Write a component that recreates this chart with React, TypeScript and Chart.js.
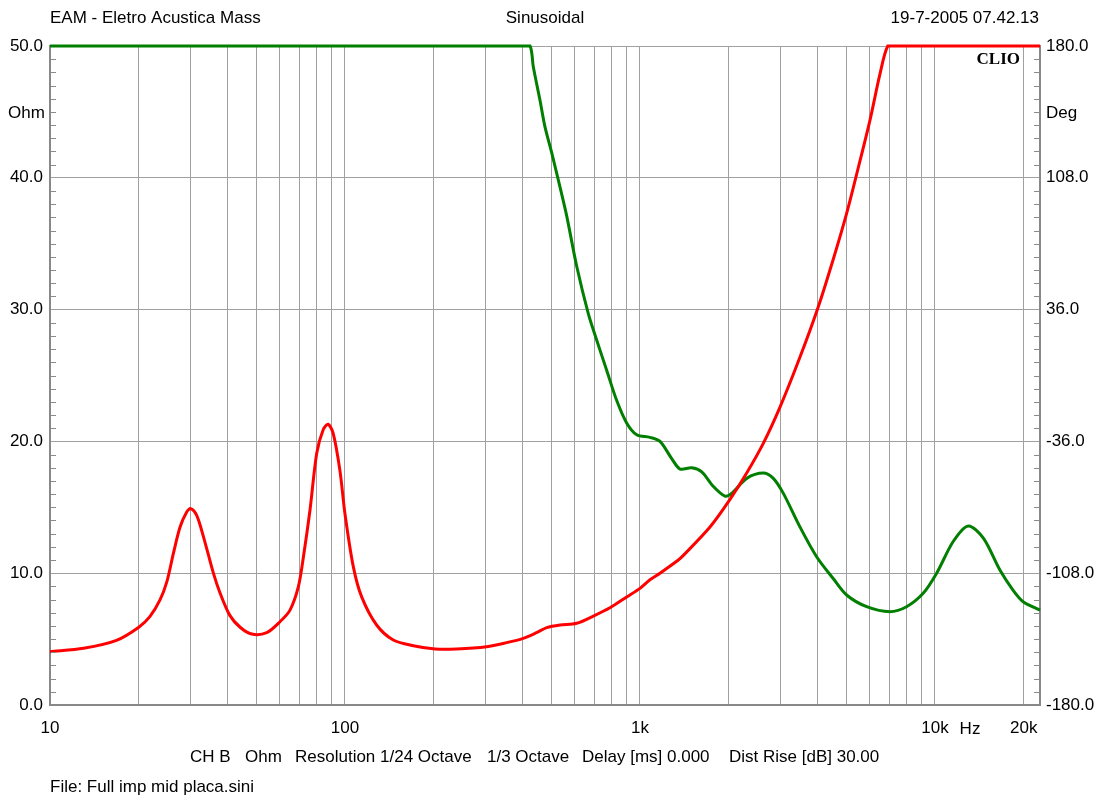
import React, { useEffect, useRef } from "react";
import { Chart, registerables } from "chart.js";

Chart.register(...registerables);

// Impedance magnitude (left axis, Ohm)
const impFreqHz = [
  10, 13, 16.8, 20, 21.8, 23.6, 24.9, 26.2, 27.6, 29.1, 30, 31.4, 33.1, 35.8, 37.7, 40.7, 44.1, 48.3,
  54.3, 60.2, 65.1, 69.5, 72.3, 76.1, 80.2, 84.4, 87.7, 91.2, 96.1, 100, 106.7, 113.9, 128, 145.8,
  170.6, 202, 239, 302, 353, 402, 446, 483, 536, 610, 695, 791, 901, 1000, 1081, 1169, 1349, 1403,
  1727, 2019, 2300, 2618, 2983, 3487, 4020, 4518, 5018, 5500, 6025, 6513, 6918, 7300, 8500, 12000,
  22700,
];
const impOhm = [
  4.04, 4.3, 4.9, 5.9, 6.7, 7.97, 9.36, 11.5, 13.5, 14.67, 14.9, 14.4, 12.8, 10.0, 8.5, 6.8, 5.9, 5.38,
  5.49, 6.32, 7.2, 8.98, 11.25, 14.8, 19.1, 20.9, 21.3, 20.6, 17.8, 14.5, 10.5, 8.2, 6.07, 4.93,
  4.5, 4.25, 4.25, 4.42, 4.73, 5.06, 5.49, 5.87, 6.07, 6.2, 6.75, 7.38, 8.2, 8.85, 9.5, 10.0, 11.0, 11.35,
  13.5, 15.6, 17.6, 19.85, 22.6, 26.4, 30.2, 33.8, 37.3, 40.8, 44.4, 47.9, 50, 50, 50, 50,
  50,
];

// Phase (right axis, Deg)
const phaseFreqHz = [
  10, 40, 150, 320, 400, 424, 435, 458, 476, 502, 529, 565, 610, 668, 713, 771, 834, 901, 975, 1081,
  1169, 1281, 1367, 1497, 1619, 1771, 1941, 2045, 2300, 2618, 2831, 3062, 3487, 3969, 4518, 5018, 5867,
  7031, 8011, 9120, 10130, 11530, 12970, 14590, 16600, 18410, 19900, 22700,
];
const phaseDeg = [
  180, 180, 180, 180, 180, 180, 168.5, 150.5, 136.1, 121.7, 106.6, 86.8, 59.8, 33.8, 19.4, 2.9, -13.7,
  -25.9, -32.4, -33.8, -36, -45.4, -51.1, -50.4, -52.6, -60.5, -65.9, -64.4, -56.2, -53.3, -56.2, -64.4,
  -82.8, -99, -110.9, -119.9, -126.3, -129, -126.3, -119, -108, -90.7, -82.2, -88.9, -106.3, -117.4,
  -123.6, -128.2,
];

const gridFreqs = [
  10, 20, 30, 40, 50, 60, 70, 80, 90, 100, 200, 300, 400, 500, 600, 700, 800, 900, 1000, 2000, 3000,
  4000, 5000, 6000, 7000, 8000, 9000, 10000, 20000,
];
const xTickValues = [10, 100, 1000, 10000, 20000];
const xTickLabels = ["10", "100", "1k", "10k", "20k"];

const titleLeft = "EAM - Eletro Acustica Mass";
const titleCenter = "Sinusoidal";
const titleRight = "19-7-2005 07.42.13";
const infoParts = ["CH B", "Ohm", "Resolution 1/24 Octave", "1/3 Octave", "Delay [ms] 0.000", "Dist Rise [dB] 30.00"];
const fileLine = "File: Full imp mid placa.sini";

const FONT = "'Liberation Sans', Arial, sans-serif";

const textPlugin = {
  id: "clioText",
  afterDraw(chart: any) {
    const ctx = chart.ctx;
    const area = chart.chartArea;
    const yS = chart.scales.y;
    ctx.save();
    ctx.strokeStyle = "#8a8a8a";
    ctx.lineWidth = 1;
    for (let i = 1; i < 50; i++) {
      if (i % 10 === 0) continue;
      const py = Math.round(yS.getPixelForValue(i)) + 0.5;
      ctx.beginPath();
      ctx.moveTo(area.left + 1, py);
      ctx.lineTo(area.left + 6, py);
      ctx.moveTo(area.right - 6, py);
      ctx.lineTo(area.right - 1, py);
      ctx.stroke();
    }
    ctx.fillStyle = "#000";
    ctx.font = `17px ${FONT}`;
    ctx.textBaseline = "middle";
    ctx.textAlign = "left";
    ctx.fillText(titleLeft, 50, 18);
    ctx.textAlign = "center";
    ctx.fillText(titleCenter, 545, 18);
    ctx.textAlign = "right";
    ctx.fillText(titleRight, 1039, 18);
    ctx.textAlign = "left";
    ctx.fillText("Ohm", 8, 113);
    ctx.fillText("Deg", 1046, 113);
    ctx.textAlign = "center";
    ctx.fillText("Hz", 970, 729);
    ctx.textAlign = "left";
    const infoX = [190, 245, 295, 487, 582, 729];
    infoParts.forEach((t, i) => ctx.fillText(t, infoX[i], 757));
    ctx.fillText(fileLine, 50, 787);
    ctx.font = `bold 17px 'Liberation Serif', 'Times New Roman', serif`;
    ctx.textAlign = "right";
    ctx.fillText("CLIO", 1020, 60);
    ctx.restore();
  },
};

export default function App() {
  const ref = useRef<HTMLCanvasElement | null>(null);
  useEffect(() => {
    if (!ref.current) return;
    const chart = new Chart(ref.current, {
      type: "line",
      data: {
        datasets: [
          {
            label: "Impedance",
            data: impFreqHz.map((f, i) => ({ x: f, y: impOhm[i] })),
            borderColor: "#ff0000",
            borderWidth: 3,
            pointRadius: 0,
            tension: 0.3,
            yAxisID: "y",
            clip: 4,
          },
          {
            label: "Phase",
            data: phaseFreqHz.map((f, i) => ({ x: f, y: phaseDeg[i] })),
            borderColor: "#007f00",
            borderWidth: 3,
            pointRadius: 0,
            tension: 0.3,
            yAxisID: "y1",
            clip: 4,
          },
        ],
      },
      options: {
        animation: false,
        responsive: false,
        layout: { padding: { top: 46, left: 0, right: 0, bottom: 0 } },
        plugins: { legend: { display: false }, tooltip: { enabled: false }, title: { display: false } },
        scales: {
          x: {
            type: "logarithmic",
            position: "bottom",
            min: 10,
            max: 22700,
            afterBuildTicks: (s: any) => {
              s.ticks = gridFreqs.map((v) => ({ value: v }));
            },
            afterFit: (s: any) => {
              s.height = 94;
            },
            ticks: {
              autoSkip: false,
              maxRotation: 0,
              minRotation: 0,
              padding: 13,
              color: "#000",
              font: { family: FONT, size: 17 },
              callback: (v: any) => {
                const idx = xTickValues.indexOf(Number(v));
                return idx >= 0 ? xTickLabels[idx] : "";
              },
            },
            grid: { color: "#a0a0a0", lineWidth: 1, drawTicks: false },
            border: { display: true, color: "#888888", width: 2 },
          },
          y: {
            type: "linear",
            position: "left",
            min: 0,
            max: 50,
            afterBuildTicks: (s: any) => {
              s.ticks = [0, 10, 20, 30, 40, 50].map((v) => ({ value: v }));
            },
            afterFit: (s: any) => {
              s.width = 50;
            },
            ticks: {
              padding: 7,
              color: "#000",
              font: { family: FONT, size: 17 },
              callback: (v: any) => Number(v).toFixed(1),
            },
            grid: { color: "#a0a0a0", lineWidth: 1, drawTicks: false },
            border: { display: true, color: "#888888", width: 2 },
          },
          y1: {
            type: "linear",
            position: "right",
            min: -180,
            max: 180,
            afterBuildTicks: (s: any) => {
              s.ticks = [-180, -108, -36, 36, 108, 180].map((v) => ({ value: v }));
            },
            afterFit: (s: any) => {
              s.width = 63;
            },
            ticks: {
              padding: 6,
              color: "#000",
              font: { family: FONT, size: 17 },
              callback: (v: any) => Number(v).toFixed(1),
            },
            grid: { display: false, drawTicks: false },
            border: { display: true, color: "#888888", width: 2 },
          },
        },
      },
      plugins: [textPlugin],
    } as any);
    return () => chart.destroy();
  }, []);
  return (
    <div style={{ position: "absolute", left: 0, top: 0, width: 1103, height: 799, background: "#fff" }}>
      <canvas ref={ref} width={1103} height={799} style={{ display: "block" }} />
    </div>
  );
}
